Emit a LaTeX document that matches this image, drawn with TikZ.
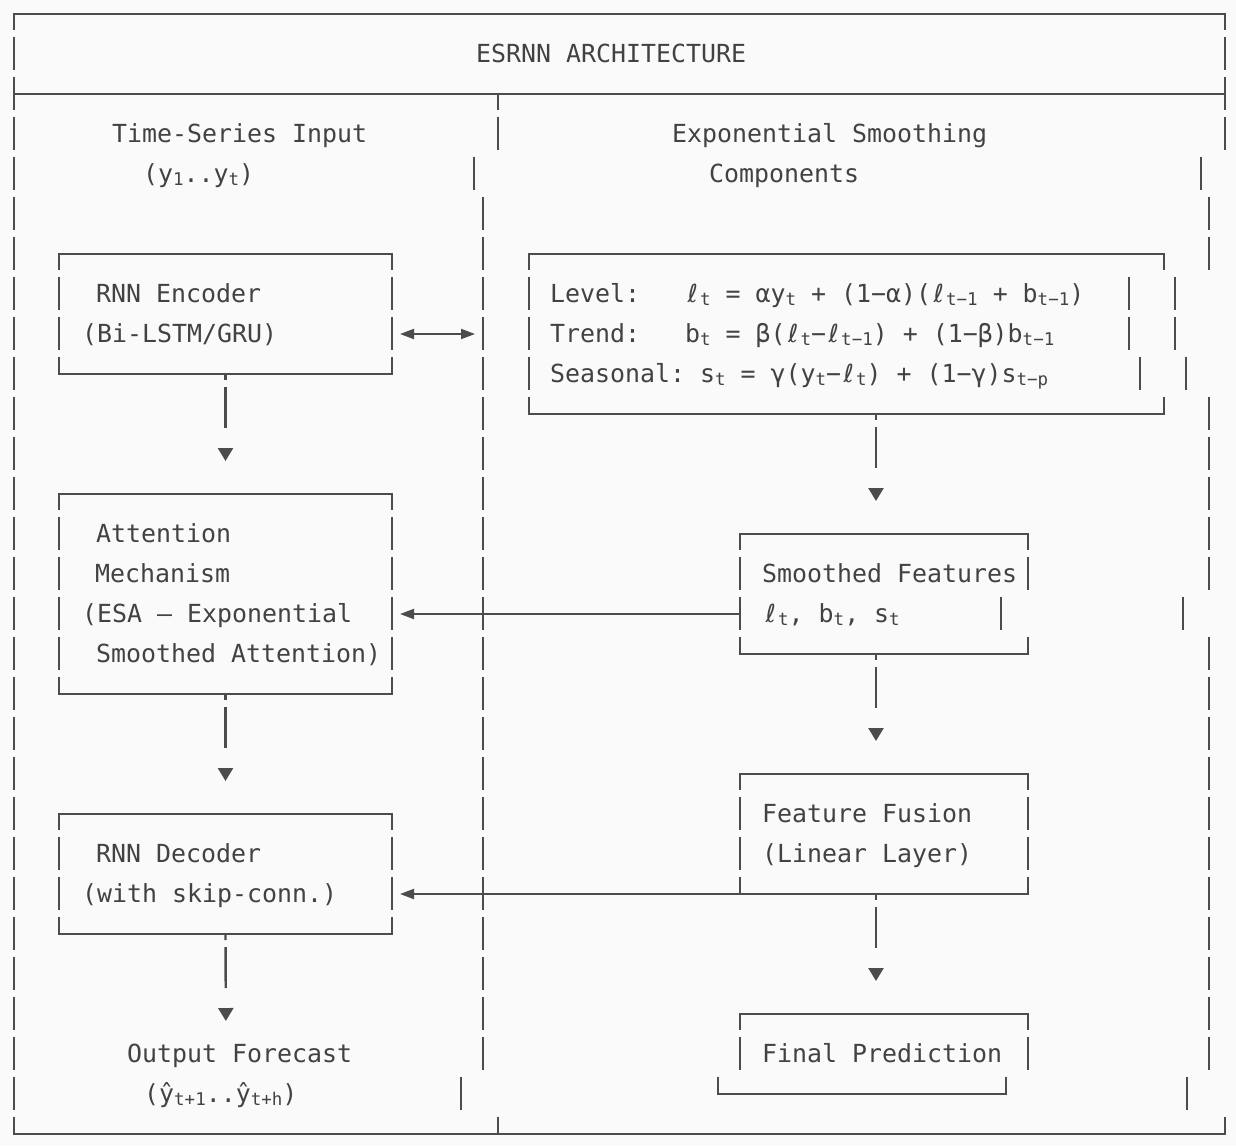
\documentclass[tikz,border=0pt]{standalone}
\usepackage{fontspec}
\newfontfamily\dvmono{DejaVu Sans Mono}
\newfontfamily\dvsans{DejaVu Sans}
\usetikzlibrary{arrows.meta,calc}
\definecolor{bg}{HTML}{FAFAFA}
\definecolor{ink}{HTML}{4C4C4C}
\definecolor{txt}{HTML}{424242}
\newcommand{\sbs}[1]{\raisebox{-3pt}{\fontsize{17.5}{17.5}\selectfont #1}}
\newcommand{\ellc}{\makebox[15pt][c]{\dvsans ℓ}}
\newcommand{\drawframe}[1]{%
  \draw[hl] (#1.north west) -- (#1.north east);
  \draw[hl] (#1.south west) -- (#1.south east);
  \draw[vl] (#1.north west) -- (#1.south west);
  \draw[vl] (#1.north east) -- (#1.south east);}
\newcommand{\rowbar}[2]{\draw[vseg] (#1,{40*#2-3}) -- (#1,{40*#2+30});}
\begin{document}
\begin{tikzpicture}[x=1pt,y=-1pt,
  hl/.style={draw=ink,line width=2.4pt,line cap=rect},
  vl/.style={draw=ink,line width=2.4pt,dash pattern=on 33pt off 7pt,dash phase=17pt},
  vseg/.style={draw=ink,line width=2.4pt},
  boxn/.style={inner sep=0pt,outer sep=0pt,anchor=north west},
  lbl/.style={font=\dvmono\fontsize{24.9}{30}\selectfont,text=txt,inner sep=0pt,anchor=base west},
  varrow/.style={draw=ink,line width=2.4pt,dash pattern=on 6pt off 7pt on 41pt off 200pt,
    -{Triangle[length=13pt,width=15pt]},shorten >=33pt},
  harrow/.style={draw=ink,line width=2pt,-{Triangle[length=14pt,width=10pt]},shorten >=8pt},
  darrow/.style={draw=ink,line width=2pt,{Triangle[length=14pt,width=10pt]}-{Triangle[length=14pt,width=10pt]},shorten >=8pt,shorten <=8pt}]
\useasboundingbox (0,0) rectangle (1236,1146);
\fill[bg] (0,0) rectangle (1236,1146);

% outer frame
\draw[hl] (14,14) -- (1225,14);
\draw[hl] (14,94) -- (1225,94);
\draw[hl] (14,1134) -- (1225,1134);
\draw[vl] (14,14) -- (14,1134);
\draw[vseg] (1225,14) -- (1225,30);
\rowbar{1225}{1}\rowbar{1225}{2}\rowbar{1225}{3}
\rowbar{1201}{4}\rowbar{1209}{5}\rowbar{1209}{6}
\rowbar{1175}{7}\rowbar{1175}{8}\rowbar{1186}{9}
\foreach \r in {10,...,14} {\rowbar{1209}{\r}}
\rowbar{1183}{15}
\foreach \r in {16,...,26} {\rowbar{1209}{\r}}
\rowbar{1187}{27}
\draw[vseg] (1225,1117) -- (1225,1134);

% column divider
\draw[vseg] (498,94) -- (498,110);
\rowbar{498}{3}\rowbar{474}{4}
\foreach \r in {5,...,26} {\rowbar{483}{\r}}
\rowbar{461}{27}
\draw[vseg] (498,1117) -- (498,1134);
\coordinate (divE) at (483,334);
\coordinate (outtop) at (226,1054);

% boxes
\node[boxn,minimum width=333pt,minimum height=120pt] (enc) at (59,254) {};
\node[boxn,minimum width=333pt,minimum height=200pt] (att) at (59,494) {};
\node[boxn,minimum width=333pt,minimum height=120pt] (dec) at (59,814) {};
\node[boxn,minimum width=635pt,minimum height=160pt] (eq) at (529,254) {};
\node[boxn,minimum width=288pt,minimum height=120pt] (smooth) at (740,534) {};
\node[boxn,minimum width=288pt,minimum height=120pt] (fusion) at (740,774) {};
\node[boxn,minimum width=288pt,minimum height=80pt] (final) at (740,1014) {};

\drawframe{enc}
\drawframe{att}
\drawframe{dec}
\drawframe{fusion}

% equation box (irregular right side)
\draw[hl] (eq.north west) -- (eq.north east);
\draw[hl] (eq.south west) -- (eq.south east);
\draw[vl] (eq.north west) -- (eq.south west);
\draw[vseg] (1164,254) -- (1164,270);
\draw[vseg] (1164,397) -- (1164,414);
\rowbar{1129}{7}\rowbar{1129}{8}\rowbar{1140}{9}

% smoothed features box (irregular right side)
\draw[hl] (smooth.north west) -- (smooth.north east);
\draw[hl] (smooth.south west) -- (smooth.south east);
\draw[vl] (smooth.north west) -- (smooth.south west);
\draw[vseg] (1028,534) -- (1028,550);
\rowbar{1028}{14}\rowbar{1001}{15}
\draw[vseg] (1028,637) -- (1028,654);

% final prediction box (shifted bottom)
\draw[hl] (final.north west) -- (final.north east);
\draw[vl] (final.north west) -- (740,1070);
\draw[vl] (final.north east) -- (1028,1070);
\draw[vseg,line join=miter] (718,1077) -- (718,1094) -- (1006,1094) -- (1006,1077);

% vertical connectors
\draw[varrow] (enc.south) -- (att.north);
\draw[varrow] (att.south) -- (dec.north);
\draw[varrow] (dec.south) -- (outtop);
\draw[varrow] ([xshift=29.5pt]eq.south) -- ([xshift=-8pt]smooth.north);
\draw[varrow] ([xshift=-8pt]smooth.south) -- ([xshift=-8pt]fusion.north);
\draw[varrow] ([xshift=-8pt]fusion.south) -- ([xshift=-8pt]final.north);

% horizontal connectors
\draw[darrow] ([yshift=-20pt]enc.east) -- (divE);
\draw[harrow] ([yshift=-20pt]smooth.west) -- ([yshift=-20pt]att.east);
\draw[harrow] (fusion.south west) -- ([yshift=-20pt]dec.east);

% texts
\node[lbl] (tTitle) at (476,62) {ESRNN ARCHITECTURE};
\node[lbl] (tTS) at (112,142) {Time-Series Input};
\node[lbl] (tES) at (672,142) {Exponential Smoothing};
\node[lbl] (tY) at (143,182) {(y\sbs{1}..y\sbs{t})};
\node[lbl] (tComp) at (709,182) {Components};
\node[lbl] (tEnc1) at (96,302) {RNN Encoder};
\node[lbl] (tEnc2) at (82,342) {(Bi-LSTM/GRU)};
\node[lbl] (tLev) at (550,302) {Level:};
\node[lbl] (tLevF) at (685,302) {\ellc\sbs{t} = αy\sbs{t} + (1−α)(\ellc\sbs{t−1} + b\sbs{t−1})};
\node[lbl] (tTr) at (550,342) {Trend:};
\node[lbl] (tTrF) at (685,342) {b\sbs{t} = β(\ellc\sbs{t}−\ellc\sbs{t−1}) + (1−β)b\sbs{t−1}};
\node[lbl] (tSe) at (550,382) {Seasonal:};
\node[lbl] (tSeF) at (700,382) {s\sbs{t} = γ(y\sbs{t}−\ellc\sbs{t}) + (1−γ)s\sbs{t−p}};
\node[lbl] (tAtt1) at (96,542) {Attention};
\node[lbl] (tAtt2) at (95,582) {Mechanism};
\node[lbl] (tAtt3) at (82,622) {(ESA – Exponential};
\node[lbl] (tAtt4) at (96,662) {Smoothed Attention)};
\node[lbl] (tSm1) at (762,582) {Smoothed Features};
\node[lbl] (tSm2) at (763,622) {\ellc\sbs{t}, b\sbs{t}, s\sbs{t}};
\node[lbl] (tFu1) at (762,822) {Feature Fusion};
\node[lbl] (tFu2) at (762,862) {(Linear Layer)};
\node[lbl] (tDec1) at (96,862) {RNN Decoder};
\node[lbl] (tDec2) at (82,902) {(with skip-conn.)};
\node[lbl] (tOut1) at (127,1062) {Output Forecast};
\node[lbl] (tOut2) at (144,1102) {(ŷ\sbs{t+1}..ŷ\sbs{t+h})};
\node[lbl] (tFin) at (762,1062) {Final Prediction};
\end{tikzpicture}
\end{document}
